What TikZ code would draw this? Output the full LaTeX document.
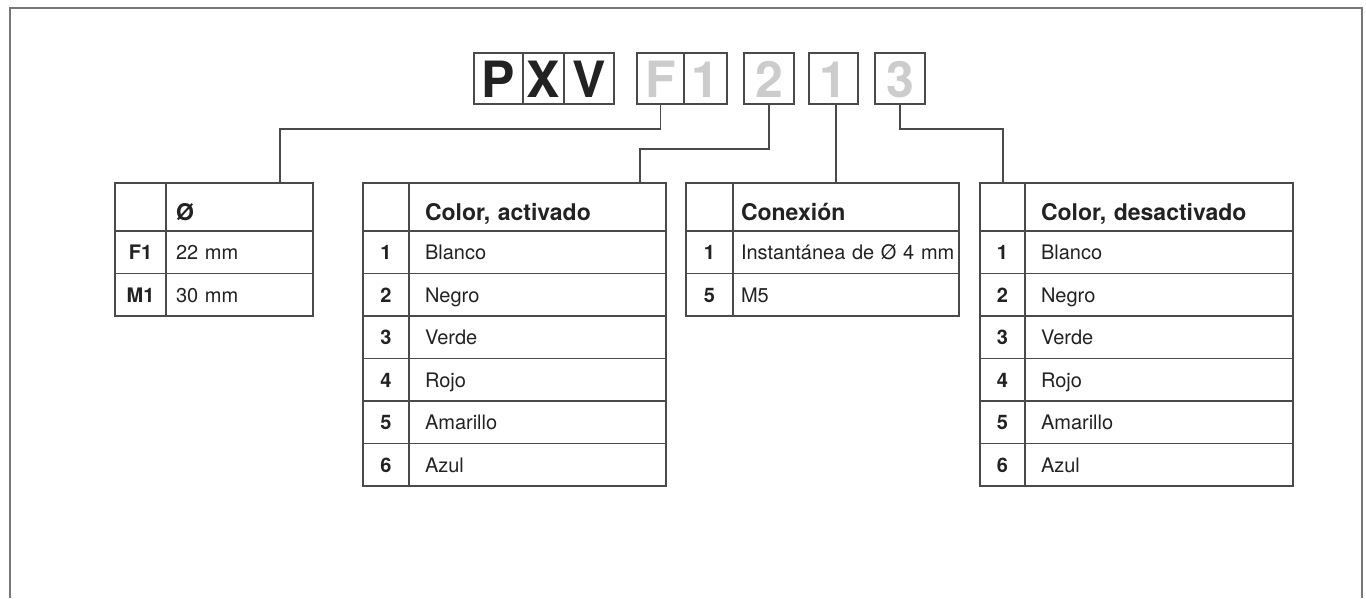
\documentclass[tikz,border=0pt]{standalone}
\usepackage{fontspec}
\setmainfont{TeX Gyre Heros}
\usetikzlibrary{positioning}
\definecolor{ink}{HTML}{222222}
\definecolor{rulegray}{HTML}{4A4A4A}
\definecolor{pale}{HTML}{CCCCCC}
\definecolor{framegray}{HTML}{777777}
\newcommand\bodysize{\fontsize{20}{24}\selectfont}
\newcommand\headsize{\fontsize{23}{26}\selectfont\bfseries}
\newcommand\codesize{\fontsize{50}{54}\selectfont\bfseries}
\begin{document}
\begin{tikzpicture}[x=1pt, y=-1pt,
    cell/.style={draw=rulegray, line width=1.1pt, outer sep=0pt, inner ysep=0pt, text=ink},
    numcell/.style={cell, inner xsep=0pt, font=\bodysize\bfseries, text height=14.5pt, text depth=0pt, minimum height=42.5pt},
    txtcell/.style={cell, align=left, font=\bodysize, text height=14.5pt, text depth=0pt, minimum height=42.5pt},
    headnum/.style={cell, minimum height=48pt},
    headcell/.style={cell, align=left, font=\headsize, text height=26pt, text depth=0pt, minimum height=48pt},
    codebox/.style={draw=rulegray, line width=1.2pt, outer sep=0pt, inner sep=0pt, minimum height=51pt, font=\codesize, text height=38pt, text depth=0pt, text=ink},
    palebox/.style={codebox, text=pale},
    link/.style={draw=rulegray, line width=1.1pt}]
    \useasboundingbox (0,0) rectangle (1366,598);
    \draw[framegray, line width=1.8pt] (10,598) -- (10,8) -- (1362,8) -- (1362,598);
    % type code
    \node[codebox, minimum width=49pt, anchor=north west] (cP) at (474,53) {P};
    \node[codebox, minimum width=41pt, right=0pt of cP] (cX) {X};
    \node[codebox, minimum width=50pt, right=0pt of cX] (cV) {V};
    \node[palebox, minimum width=47pt, anchor=north west] (cF) at (637,53) {F};
    \node[palebox, minimum width=43pt, right=0pt of cF] (cFa) {1};
    \node[palebox, minimum width=50pt, anchor=north west] (cOn) at (744,53) {2};
    \node[palebox, minimum width=49pt, anchor=north west] (cCon) at (809,53) {1};
    \node[palebox, minimum width=50pt, anchor=north west] (cOff) at (875,53) {3};
    % diameter
    \node[headnum, minimum width=51pt, anchor=north west] (dm0) at (115,183) {};
    \node[headcell, text width=127pt, inner xsep=10pt, right=0pt of dm0] (dmH) {Ø};
    \foreach \n/\t [count=\i] in {F1/22 mm, M1/30 mm} {
        \node[numcell, minimum width=51pt, anchor=north west] (dmN\i) at (115,{231+(\i-1)*42.5}) {\n};
        \node[txtcell, text width=127pt, inner xsep=10pt, right=0pt of dmN\i] (dmT\i) {\t};
    }
    % colour, activated
    \node[headnum, minimum width=46pt, anchor=north west] (ca0) at (363,183) {};
    \node[headcell, text width=225pt, inner xsep=16pt, right=0pt of ca0] (caH) {Color, activado};
    \foreach \n/\t [count=\i] in {1/Blanco, 2/Negro, 3/Verde, 4/Rojo, 5/Amarillo, 6/Azul} {
        \node[numcell, minimum width=46pt, anchor=north west] (caN\i) at (363,{231+(\i-1)*42.5}) {\n};
        \node[txtcell, text width=225pt, inner xsep=16pt, right=0pt of caN\i] (caT\i) {\t};
    }
    % connection
    \node[headnum, minimum width=47pt, anchor=north west] (cx0) at (686,183) {};
    \node[headcell, text width=210pt, inner xsep=8pt, right=0pt of cx0] (cxH) {Conexión};
    \foreach \n/\t [count=\i] in {1/Instantánea~de~Ø~4~mm, 5/M5} {
        \node[numcell, minimum width=47pt, anchor=north west] (cxN\i) at (686,{231+(\i-1)*42.5}) {\n};
        \node[txtcell, text width=210pt, inner xsep=8pt, right=0pt of cxN\i] (cxT\i) {\t};
    }
    % colour, deactivated
    \node[headnum, minimum width=45pt, anchor=north west] (cd0) at (980,183) {};
    \node[headcell, text width=236pt, inner xsep=16pt, right=0pt of cd0] (cdH) {Color, desactivado};
    \foreach \n/\t [count=\i] in {1/Blanco, 2/Negro, 3/Verde, 4/Rojo, 5/Amarillo, 6/Azul} {
        \node[numcell, minimum width=45pt, anchor=north west] (cdN\i) at (980,{231+(\i-1)*42.5}) {\n};
        \node[txtcell, text width=236pt, inner xsep=16pt, right=0pt of cdN\i] (cdT\i) {\t};
    }
    % connectors
    \coordinate (kF) at (280,129);
    \coordinate (kOn) at (640,149);
    \coordinate (kCon) at (836,104);
    \coordinate (kOff) at (1003,129);
    \draw[link] (cF.south) |- (kF) -- (kF |- dmH.north);
    \draw[link] (cOn.south) |- (kOn) -- (kOn |- caH.north);
    \draw[link] (kCon) -- (kCon |- cxH.north);
    \draw[link] (cOff.south) |- (kOff) -- (kOff |- cdH.north);
\end{tikzpicture}
\end{document}
